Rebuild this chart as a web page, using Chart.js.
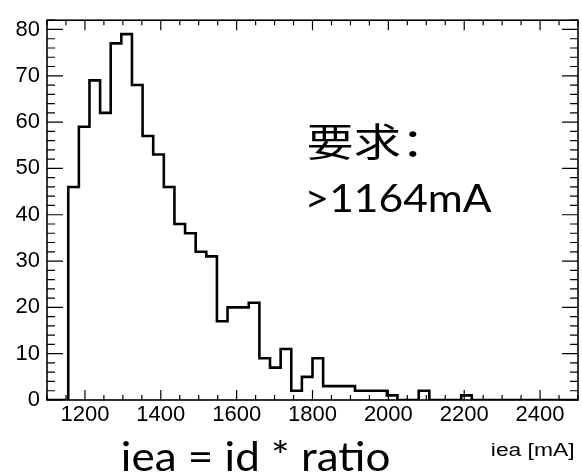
<!DOCTYPE html>
<html>
<head>
<meta charset="utf-8">
<script src="https://cdn.jsdelivr.net/npm/chart.js@4.4.0/dist/chart.umd.min.js"></script>
<style>
  html, body { margin: 0; padding: 0; background: #fff; }
  #wrap { width: 582px; height: 476px; }
</style>
</head>
<body>
<div id="wrap"><canvas id="hist"></canvas></div>
<script>
// iea histogram: 50 bins of 28 mA starting at 1100
var binLow = 1100;
var binWidth = 28;
var counts = [0, 0, 46, 59, 69, 62, 77, 79, 68, 57,
              53, 46, 38, 36, 32, 31, 17, 20, 20, 21,
              9, 7, 11, 2, 5, 9, 3, 3, 3, 2,
              2, 2, 1, 0, 0, 2, 0, 0, 0, 1,
              0, 0, 0, 0, 0, 0, 0, 0, 0, 0];
var xRange = [1100, 2500];
var yRange = [0, 82];
var xTicks = [1200, 1400, 1600, 1800, 2000, 2200, 2400];
var yTicks = [0, 10, 20, 30, 40, 50, 60, 70, 80];
var xMinorStep = 50;
var yMinorStep = 2;

var note1 = '要求：';
var note2 = '>1164mA';
var caption = 'iea = id * ratio';
var xTitle = 'iea [mA]';

// step outline points (left bin edges + closing edge)
var points = counts.map(function (c, i) {
  return { x: binLow + i * binWidth, y: c };
});
points.push({ x: binLow + counts.length * binWidth, y: 0 });

// draws text so its glyph box fills the given box
function fitText(ctx, text, family, box) {
  ctx.font = '100px ' + family;
  var m = ctx.measureText(text);
  var h = m.actualBoundingBoxAscent + m.actualBoundingBoxDescent;
  var size = 100 * (box.bottom - box.top) / h;
  ctx.font = size + 'px ' + family;
  m = ctx.measureText(text);
  var w = m.actualBoundingBoxLeft + m.actualBoundingBoxRight;
  var sx = (box.right - box.left) / w;
  ctx.save();
  ctx.textAlign = 'left';
  ctx.textBaseline = 'alphabetic';
  ctx.fillStyle = '#000';
  ctx.translate(box.left, box.top + m.actualBoundingBoxAscent);
  ctx.scale(sx, 1);
  ctx.fillText(text, m.actualBoundingBoxLeft, 0);
  ctx.restore();
}

var frame = {
  id: 'frame',
  afterDatasetsDraw: function (chart) {
    var ctx = chart.ctx;
    var a = chart.chartArea;
    var xs = chart.scales.x, ys = chart.scales.y;
    ctx.save();
    ctx.strokeStyle = '#000';
    ctx.lineWidth = 1.2;
    ctx.beginPath();
    var v, px, py, len;
    for (v = xRange[0]; v <= xRange[1]; v += xMinorStep) {
      px = xs.getPixelForValue(v);
      len = xTicks.indexOf(v) >= 0 ? 10 : 5;
      ctx.moveTo(px, a.bottom); ctx.lineTo(px, a.bottom - len);
      ctx.moveTo(px, a.top); ctx.lineTo(px, a.top + len);
    }
    for (v = yRange[0]; v <= yRange[1]; v += yMinorStep) {
      py = ys.getPixelForValue(v);
      len = yTicks.indexOf(v) >= 0 ? 16 : 8;
      ctx.moveTo(a.left, py); ctx.lineTo(a.left + len, py);
      ctx.moveTo(a.right, py); ctx.lineTo(a.right - len, py);
    }
    ctx.stroke();
    ctx.lineWidth = 1.6;
    ctx.strokeRect(a.left, a.top, a.right - a.left, a.bottom - a.top);
    ctx.restore();
  },
  afterDraw: function (chart) {
    var ctx = chart.ctx;
    fitText(ctx, note1, '"Noto Sans CJK SC"', { left: 309, right: 417, top: 123, bottom: 159 });
    fitText(ctx, note2, 'Lato', { left: 309, right: 492, top: 184, bottom: 212 });
    fitText(ctx, caption, 'Lato', { left: 123, right: 389, top: 439, bottom: 471 });
    fitText(ctx, xTitle, '"Liberation Sans"', { left: 492, right: 573, top: 443, bottom: 461 });
  }
};

var plain = function (v) { return String(v); };

var ctx = document.getElementById('hist').getContext('2d');
var chart = new Chart(ctx, {
  type: 'line',
  data: {
    datasets: [{
      data: points,
      stepped: 'before',
      borderColor: '#000',
      borderWidth: 2.6,
      pointRadius: 0,
      fill: false,
      tension: 0
    }]
  },
  options: {
    responsive: true,
    maintainAspectRatio: false,
    devicePixelRatio: 1,
    animation: false,
    layout: { padding: { top: 14, right: 4, left: 0, bottom: 0 } },
    plugins: { legend: { display: false }, tooltip: { enabled: false } },
    scales: {
      x: {
        type: 'linear',
        min: xRange[0],
        max: xRange[1],
        afterBuildTicks: function (s) { s.ticks = xTicks.map(function (t) { return { value: t }; }); },
        afterFit: function (s) { s.height = 76; },
        grid: { display: false, drawTicks: false },
        border: { display: false },
        ticks: { padding: 2, color: '#000', maxRotation: 0, autoSkip: false, callback: plain,
                 font: { family: 'Liberation Sans', size: 22 } }
      },
      y: {
        min: yRange[0],
        max: yRange[1],
        afterBuildTicks: function (s) { s.ticks = yTicks.map(function (t) { return { value: t }; }); },
        afterFit: function (s) { s.width = 47; },
        grid: { display: false, drawTicks: false },
        border: { display: false },
        ticks: { padding: 7, color: '#000', autoSkip: false, callback: plain,
                 font: { family: 'Liberation Sans', size: 22 } }
      }
    }
  },
  plugins: [frame]
});
</script>
</body>
</html>
